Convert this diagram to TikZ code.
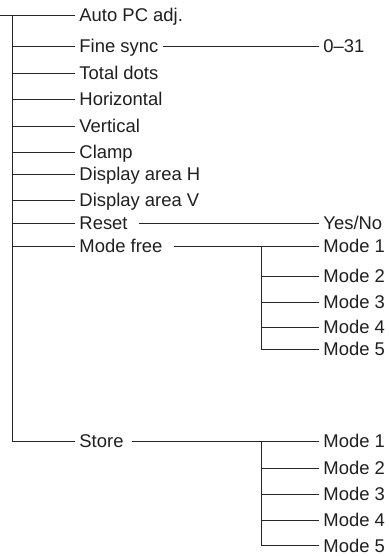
\documentclass[tikz,border=0pt]{standalone}
\usepackage{fontspec}
\setmainfont{Liberation Sans}
\usepackage{tikz}
\usetikzlibrary{calc}

\begin{document}
\begin{tikzpicture}[
  x=1bp,y=-1bp,
  font=\fontsize{18.5}{21}\selectfont,
  line width=0.9bp,
  item/.style={anchor=west,inner xsep=4bp,inner ysep=0pt,text height=13.2bp,text depth=0pt,text=black!88},
  wire/.style={draw=black!85}
]
\useasboundingbox (0,0) rectangle (388,556);

\node[item] (auto)   at (75,15)  {Auto PC adj.};
\node[item] (fine)   at (75,46)  {Fine sync};
\node[item] (total)  at (75,73)  {Total dots};
\node[item] (horiz)  at (75,99)  {Horizontal};
\node[item] (vert)   at (75,126) {Vertical};
\node[item] (clamp)  at (75,152) {Clamp};
\node[item] (dispH)  at (75,174) {Display area H};
\node[item] (dispV)  at (75,200) {Display area V};
\node[item] (reset)  at (75,223) {Reset};
\node[item] (mfree)  at (75,246) {Mode free};
\node[item] (store)  at (75,441) {Store};

\node[item] (range)  at (319,46)  {0--31};
\node[item] (yesno)  at (319,223) {Yes/No};

\node[item] (mf1) at (319,246) {Mode 1};
\node[item] (mf2) at (319,276) {Mode 2};
\node[item] (mf3) at (319,302) {Mode 3};
\node[item] (mf4) at (319,327) {Mode 4};
\node[item] (mf5) at (319,349) {Mode 5};

\node[item] (st1) at (319,441) {Mode 1};
\node[item] (st2) at (319,468) {Mode 2};
\node[item] (st3) at (319,494) {Mode 3};
\node[item] (st4) at (319,520) {Mode 4};
\node[item] (st5) at (319,545.5) {Mode 5};

\coordinate (entry) at (0,15);
\coordinate (top) at (12,15);
\coordinate (bottom) at (12,441);
\coordinate (mfbus) at (261,246);
\coordinate (stbus) at (261,441);

\draw[wire] (entry) -- (auto.west);
\draw[wire] (top) -- (bottom) -- (store.west);
\draw[wire] (top |- fine.west) -- (fine.west);
\draw[wire] (top |- total.west) -- (total.west);
\draw[wire] (top |- horiz.west) -- (horiz.west);
\draw[wire] (top |- vert.west) -- (vert.west);
\draw[wire] (top |- clamp.west) -- (clamp.west);
\draw[wire] (top |- dispH.west) -- (dispH.west);
\draw[wire] (top |- dispV.west) -- (dispV.west);
\draw[wire] (top |- reset.west) -- (reset.west);
\draw[wire] (top |- mfree.west) -- (mfree.west);

\draw[wire] (fine.east) -- (range.west);
\draw[wire] ([xshift=7bp]reset.east) -- (yesno.west);

\draw[wire] ([xshift=7bp]mfree.east) -- (mf1.west);
\draw[wire] (mfbus) |- (mf2.west);
\draw[wire] (mfbus) |- (mf3.west);
\draw[wire] (mfbus) |- (mf4.west);
\draw[wire] (mfbus) |- (mf5.west);

\draw[wire] ([xshift=4bp]store.east) -- (st1.west);
\draw[wire] (stbus) |- (st2.west);
\draw[wire] (stbus) |- (st3.west);
\draw[wire] (stbus) |- (st4.west);
\draw[wire] (stbus) |- (st5.west);
\end{tikzpicture}
\end{document}
